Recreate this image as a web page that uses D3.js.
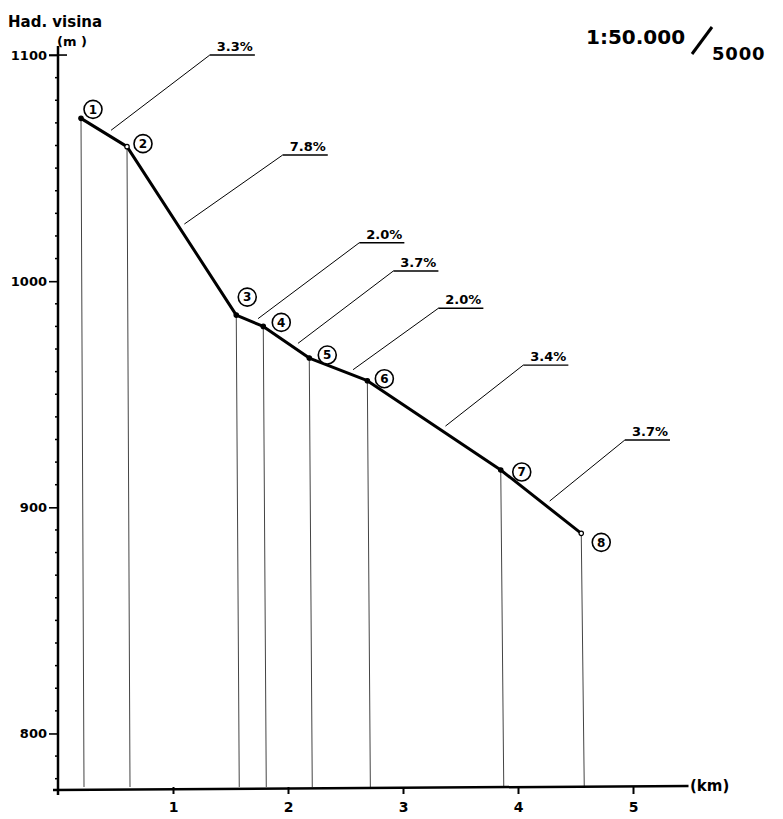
<!DOCTYPE html>
<html>
<head>
<meta charset="utf-8">
<script src="https://cdn.jsdelivr.net/npm/d3@7"></script>
<style>
  html, body { margin: 0; padding: 0; background: #fff; }
  svg { display: block; }
  text { font-family: "DejaVu Sans", sans-serif; font-weight: bold; fill: #000; }
</style>
</head>
<body>
<svg id="chart" width="783" height="819"></svg>
<script>
// ---- data ----
const pointIds   = ["1", "2", "3", "4", "5", "6", "7", "8"];
const distanceKm = [0.20, 0.60, 1.55, 1.785, 2.185, 2.69, 3.85, 4.55];
const elevationM = [1072, 1059.5, 985, 980, 966, 956, 916.5, 888.5];

const gradeLabels   = ["3.3%", "7.8%", "2.0%", "3.7%", "2.0%", "3.4%", "3.7%"];
const gradeAlong    = [0.55, 0.48, 0.63, 0.65, 0.67, 0.55, 0.55];   // fraction along each segment
const gradeLabelKm  = [1.32, 1.954, 2.62, 2.916, 3.307, 4.046, 4.93];
const gradeLabelM   = [1100, 1055.8, 1017, 1004.5, 988, 962.9, 929.8];

const xTicks       = [1, 2, 3, 4, 5];
const xTickLabels  = ["1", "2", "3", "4", "5"];
const yMajorTicks  = [800, 900, 1000, 1100];
const yTickLabels  = ["800", "900", "1000", "1100"];
const yMinorStep   = 10;

const yTitle1   = "Had. visina";
const yTitle2   = "(m )";
const xTitle    = "(km)";
const scaleTop  = "1:50.000";
const scaleBot  = "5000";

// ---- layout ----
const svg = d3.select("#chart");
const x = d3.scaleLinear().domain([0, 5.5]).range([58, 58 + 5.5 * 115]);
const y = d3.scaleLinear().domain([775, 1104]).range([790, 46]);
const axisY = y(775);

// circle label offsets (layout)
const circOff = [[12, -9], [16, -3], [11, -18], [18, -4], [18, -3], [17, -2], [21, 2], [20, 9]];

const pts = distanceKm.map((d, i) => ({ x: x(d), y: y(elevationM[i]), id: pointIds[i] }));

// drop lines
svg.append("g").selectAll("line").data(pts).join("line")
  .attr("x1", d => d.x).attr("x2", d => d.x + 3)
  .attr("y1", d => d.y).attr("y2", axisY - 3)
  .attr("stroke", "#444").attr("stroke-width", 1);

// axes
const gy = svg.append("g").attr("transform", `translate(${x(0)},0)`);
gy.call(d3.axisLeft(y).tickValues(yMajorTicks).tickFormat((d, i) => yTickLabels[i]).tickSize(9).tickPadding(2));
gy.select(".domain").remove();
gy.selectAll(".tick line").attr("stroke", "#000").attr("stroke-width", 1.6);
gy.selectAll(".tick text").attr("font-size", 13).attr("font-family", "DejaVu Sans").attr("font-weight", "bold");
gy.append("line").attr("x1", 0).attr("x2", 0).attr("y1", 46).attr("y2", axisY + 5)
  .attr("stroke", "#000").attr("stroke-width", 2.5);
// 1100 cross
gy.append("line").attr("x1", -9).attr("x2", 9).attr("y1", y(1100)).attr("y2", y(1100))
  .attr("stroke", "#000").attr("stroke-width", 1.6);
// minor ticks
const minor = d3.range(780, 1101, yMinorStep).filter(v => !yMajorTicks.includes(v));
gy.selectAll(".minor").data(minor).join("line").attr("class", "minor")
  .attr("x1", -3).attr("x2", 0).attr("y1", d => y(d)).attr("y2", d => y(d))
  .attr("stroke", "#000").attr("stroke-width", 1.5);

const gx = svg.append("g").attr("transform", `translate(0,${axisY})`);
gx.call(d3.axisBottom(x).tickValues(xTicks).tickFormat((d, i) => xTickLabels[i]).tickSize(4).tickPadding(8));
gx.select(".domain").remove();
gx.selectAll(".tick line").attr("stroke", "#000").attr("stroke-width", 2).attr("y1", -3);
gx.selectAll(".tick text").attr("font-size", 14).attr("font-family", "DejaVu Sans").attr("font-weight", "bold");
gx.append("line").attr("x1", 53).attr("x2", x(5.5) - 2).attr("y1", 0).attr("y2", -4)
  .attr("stroke", "#000").attr("stroke-width", 2.5);

// leader lines and grade labels
for (let i = 0; i < gradeLabels.length; i++) {
  const a = pts[i], b = pts[i + 1], f = gradeAlong[i];
  const sx = a.x + (b.x - a.x) * f, sy = a.y + (b.y - a.y) * f;
  const lx = x(gradeLabelKm[i]), ly = y(gradeLabelM[i]);
  const dx = lx - sx, dy = ly - sy, len = Math.hypot(dx, dy);
  const gap = 6;
  svg.append("line")
    .attr("x1", sx + dx / len * gap).attr("y1", sy + dy / len * gap)
    .attr("x2", lx).attr("y2", ly)
    .attr("stroke", "#000").attr("stroke-width", 1);
  const t = svg.append("text").attr("x", lx + 7).attr("y", ly - 4)
    .attr("font-size", 13).text(gradeLabels[i]);
  const w = t.node().getComputedTextLength();
  svg.append("line").attr("x1", lx).attr("x2", lx + w + 9).attr("y1", ly).attr("y2", ly)
    .attr("stroke", "#000").attr("stroke-width", 1.4);
}

// profile line
svg.append("path").datum(pts)
  .attr("d", d3.line().x(d => d.x).y(d => d.y))
  .attr("fill", "none").attr("stroke", "#000").attr("stroke-width", 3)
  .attr("stroke-linejoin", "round").attr("stroke-linecap", "round");

svg.append("g").selectAll("circle").data(pts).join("circle")
  .attr("cx", d => d.x).attr("cy", d => d.y).attr("r", 2.2)
  .attr("fill", (d, i) => (i === 1 || i === 7) ? "#fff" : "#000")
  .attr("stroke", "#000").attr("stroke-width", 1.2);

// circled point numbers
const cg = svg.append("g").selectAll("g").data(pts).join("g")
  .attr("transform", (d, i) => `translate(${d.x + circOff[i][0]},${d.y + circOff[i][1]})`);
cg.append("circle").attr("r", 9).attr("fill", "#fff").attr("stroke", "#000").attr("stroke-width", 1.6);
cg.append("text").attr("text-anchor", "middle").attr("dy", "0.36em").attr("font-size", 12).text(d => d.id);

// titles
svg.append("text").attr("x", 8).attr("y", 27).attr("font-size", 15).text(yTitle1);
svg.append("text").attr("x", 57).attr("y", 46).attr("font-size", 13).text(yTitle2);
svg.append("text").attr("x", 690).attr("y", 791).attr("font-size", 15).text(xTitle);
svg.append("text").attr("x", 586).attr("y", 44).attr("font-size", 20).text(scaleTop);
svg.append("line").attr("x1", 692).attr("y1", 54).attr("x2", 712).attr("y2", 27)
  .attr("stroke", "#000").attr("stroke-width", 3);
svg.append("text").attr("x", 712).attr("y", 60).attr("font-size", 18).attr("letter-spacing", 0.8).text(scaleBot);
</script>
</body>
</html>
